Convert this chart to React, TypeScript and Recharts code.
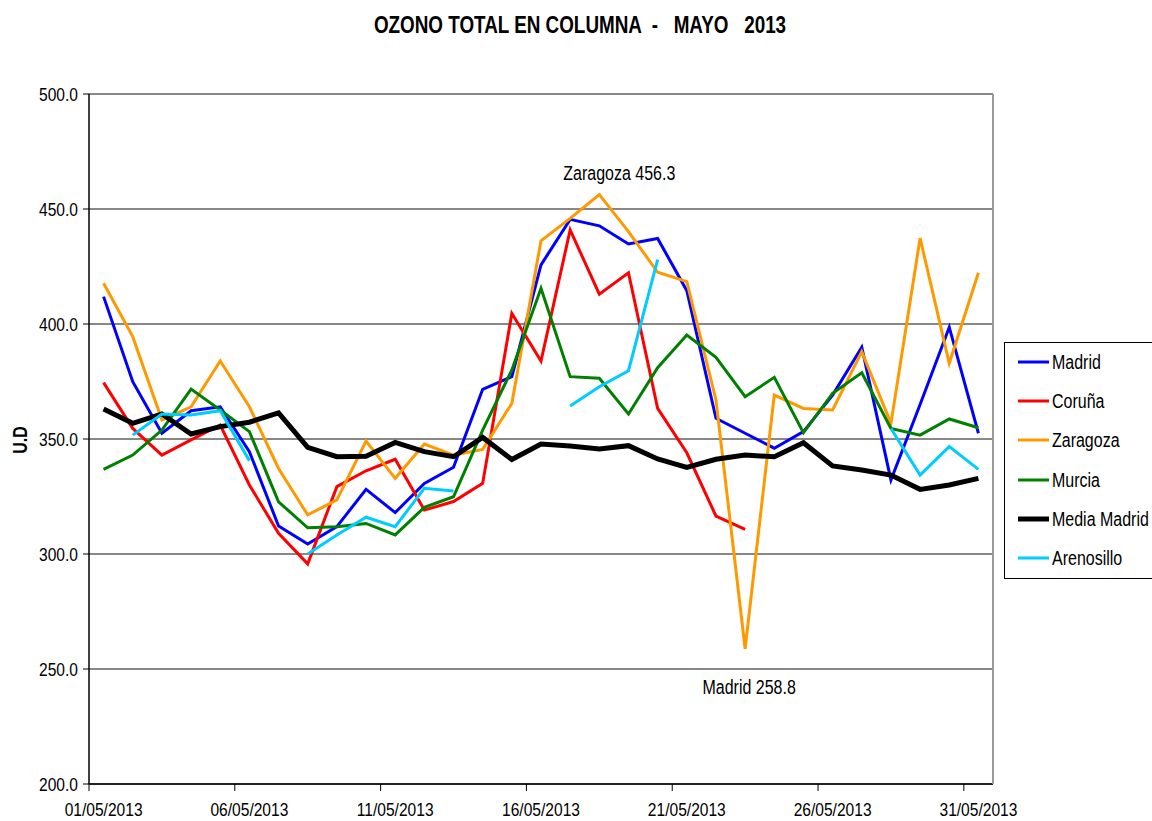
import React from 'react'
import {
  LineChart,
  Line,
  XAxis,
  YAxis,
  CartesianGrid,
  ReferenceDot,
} from 'recharts'

const DAYS = [
  '01/05/2013', '02/05/2013', '03/05/2013', '04/05/2013', '05/05/2013',
  '06/05/2013', '07/05/2013', '08/05/2013', '09/05/2013', '10/05/2013',
  '11/05/2013', '12/05/2013', '13/05/2013', '14/05/2013', '15/05/2013',
  '16/05/2013', '17/05/2013', '18/05/2013', '19/05/2013', '20/05/2013',
  '21/05/2013', '22/05/2013', '23/05/2013', '24/05/2013', '25/05/2013',
  '26/05/2013', '27/05/2013', '28/05/2013', '29/05/2013', '30/05/2013',
  '31/05/2013',
]

const MADRID = [
  411.9, 374.9, 352.5, 362.3, 364.0, 344.5, 312.2, 304.3, 311.9, 328.1,
  318.0, 330.7, 337.7, 371.6, 377.1, 425.7, 445.5, 442.7, 434.8, 437.2,
  414.5, 359.0, 352.5, 346.0, 353.2, 369.1, 389.9, 332.2, 365.0, 398.6,
  352.5,
]
const CORUNA = [
  374.5, 354.6, 343.0, 349.6, 356.1, 330.0, 309.0, 295.7, 329.3, 336.2,
  341.2, 319.1, 322.8, 330.7, 404.6, 383.9, 440.9, 413.0, 422.3, 363.3,
  344.0, 316.5, 310.7, null, null, null, null, null, null, null,
  null,
]
const ZARAGOZA = [
  417.7, 394.5, 358.3, 364.0, 383.9, 364.0, 337.2, 317.0, 323.5, 349.1,
  332.9, 347.8, 343.0, 345.5, 365.5, 436.2, 445.9, 456.3, 440.2, 422.5,
  418.4, 367.0, 258.8, 369.1, 363.3, 362.6, 388.0, 356.8, 437.3, 382.9,
  422.3,
]
const MURCIA = [
  336.8, 343.0, 353.9, 371.7, 362.6, 353.2, 322.7, 311.4, 311.9, 313.3,
  308.3, 320.3, 324.9, 353.9, 380.0, 415.5, 377.1, 376.4, 360.9, 381.0,
  395.2, 385.5, 368.4, 376.8, 352.7, 369.9, 378.8, 354.6, 351.7, 358.7,
  354.9,
]
const MEDIA_MADRID = [
  363.0, 356.8, 360.9, 352.2, 355.4, 357.3, 361.4, 346.4, 342.3, 342.5,
  348.5, 344.5, 342.3, 350.7, 341.1, 347.8, 347.0, 345.7, 347.1, 341.3,
  337.6, 341.2, 343.0, 342.3, 348.4, 338.3, 336.5, 334.3, 328.1, 330.0,
  332.9,
]
const ARENOSILLO = [
  null, 351.7, 360.9, 360.4, 362.3, 340.6, null, 300.0, 308.3, 316.0,
  311.9, 328.6, 327.4, null, null, null, 364.3, 372.7, 379.7, 428.0,
  null, null, null, null, null, null, null, 354.6, 334.3, 346.7,
  336.8,
]

const Y_TICKS = [200, 250, 300, 350, 400, 450, 500]

const SERIES = [
  { key: 'madrid', name: 'Madrid', color: '#0000FF', width: 3, values: MADRID },
  { key: 'coruna', name: 'Coruña', color: '#FF0000', width: 3, values: CORUNA },
  { key: 'zaragoza', name: 'Zaragoza', color: '#FF9900', width: 3, values: ZARAGOZA },
  { key: 'murcia', name: 'Murcia', color: '#008000', width: 3, values: MURCIA },
  { key: 'media', name: 'Media Madrid', color: '#000000', width: 5, values: MEDIA_MADRID },
  { key: 'arenosillo', name: 'Arenosillo', color: '#00CCFF', width: 3, values: ARENOSILLO },
]

const rows = DAYS.map((day, i) => {
  const row: Record<string, string | number | null> = { day }
  SERIES.forEach((s) => {
    row[s.key] = s.values[i]
  })
  return row
})

// layout
const W = 1152
const H = 821
const LEFT = 89
const RIGHT = 993
const TOP = 94
const BOTTOM = 784
const BAND = (RIGHT - LEFT) / DAYS.length
const FONT = "'Liberation Sans', Arial, sans-serif"
const SX = 0.82 // the source uses a narrow face

function Narrow({ x, y, size, anchor = 'start', bold = false, rotate = 0, children }: any) {
  return (
    <text
      transform={`translate(${x},${y}) rotate(${rotate}) scale(${SX},1)`}
      textAnchor={anchor}
      fontFamily={FONT}
      fontSize={size}
      fontWeight={bold ? 'bold' : 'normal'}
      fill="#000"
      style={{ whiteSpace: 'pre' }}
    >
      {children}
    </text>
  )
}

function XTick({ x, y, payload }: any) {
  const edge = x - BAND / 2
  return (
    <g>
      <line x1={edge} x2={edge} y1={y} y2={y + 7} stroke="#000" strokeWidth={1} />
      <Narrow x={x} y={y + 32} size={19} anchor="middle">
        {payload.value}
      </Narrow>
    </g>
  )
}

function YTick({ x, y, payload }: any) {
  return (
    <Narrow x={x} y={y + 7} size={19} anchor="end">
      {Number(payload.value).toFixed(1)}
    </Narrow>
  )
}

const note = (text: string, dx: number, dy: number) => (props: any) => {
  const vb = props.viewBox || {}
  const cx = vb.x + (vb.width || 0) / 2
  const cy = vb.y + (vb.height || 0) / 2
  return (
    <Narrow x={cx + dx} y={cy + dy} size={19.5} anchor="middle">
      {text}
    </Narrow>
  )
}

const LEGEND_Y = [362, 401, 440, 480, 519, 558]

export default function App() {
  return (
    <div
      style={{
        position: 'absolute',
        left: 0,
        top: 0,
        width: W,
        height: H,
        background: '#fff',
        overflow: 'hidden',
      }}
    >
      <LineChart
        width={W}
        height={H}
        data={rows}
        margin={{ top: TOP, right: W - RIGHT, bottom: 0, left: 0 }}
      >
        <CartesianGrid vertical={false} stroke="#111" strokeWidth={1} />
        <XAxis
          dataKey="day"
          scale="band"
          height={H - BOTTOM}
          interval={4}
          tickLine={false}
          tickSize={0}
          tickMargin={0}
          axisLine={{ stroke: '#000', strokeWidth: 1.5 }}
          tick={<XTick />}
        />
        <XAxis
          xAxisId="top"
          dataKey="day"
          scale="band"
          orientation="top"
          height={0}
          tick={false}
          tickLine={false}
          axisLine={{ stroke: '#999', strokeWidth: 2 }}
        />
        <YAxis
          domain={[200, 500]}
          ticks={Y_TICKS}
          width={LEFT}
          tickSize={6}
          tickMargin={5}
          tickLine={{ stroke: '#000' }}
          axisLine={{ stroke: '#000', strokeWidth: 1.5 }}
          tick={<YTick />}
        />
        {SERIES.map((s) => (
          <Line
            key={s.key}
            type="linear"
            dataKey={s.key}
            name={s.name}
            stroke={s.color}
            strokeWidth={s.width}
            dot={false}
            activeDot={false}
            isAnimationActive={false}
          />
        ))}
        <ReferenceDot
          x="18/05/2013"
          y={456.3}
          r={1}
          fill="none"
          stroke="none"
          label={note('Zaragoza 456.3', 20, -15)}
        />
        <ReferenceDot
          x="23/05/2013"
          y={258.8}
          r={1}
          fill="none"
          stroke="none"
          label={note('Madrid 258.8', 4, 45)}
        />
      </LineChart>

      <svg
        width={W}
        height={H}
        style={{ position: 'absolute', left: 0, top: 0, pointerEvents: 'none' }}
      >
        <Narrow x={580} y={33} size={23} anchor="middle" bold>
          {'OZONO TOTAL EN COLUMNA  -   MAYO   2013'}
        </Narrow>
        <Narrow x={27} y={440} size={19.5} anchor="middle" bold rotate={-90}>
          U.D
        </Narrow>
        {/* right frame edge of the plot area */}
        <line x1={RIGHT} x2={RIGHT} y1={TOP} y2={BOTTOM} stroke="#999" strokeWidth={2} />
        <rect x={1004.5} y={342.5} width={170} height={236} fill="#fff" stroke="#000" strokeWidth={1} />
        {SERIES.map((s, i) => (
          <g key={s.key}>
            <line
              x1={1018}
              x2={1049}
              y1={LEGEND_Y[i]}
              y2={LEGEND_Y[i]}
              stroke={s.color}
              strokeWidth={s.width}
            />
            <Narrow x={1052} y={LEGEND_Y[i] + 7} size={19.5}>
              {s.name}
            </Narrow>
          </g>
        ))}
      </svg>
    </div>
  )
}
